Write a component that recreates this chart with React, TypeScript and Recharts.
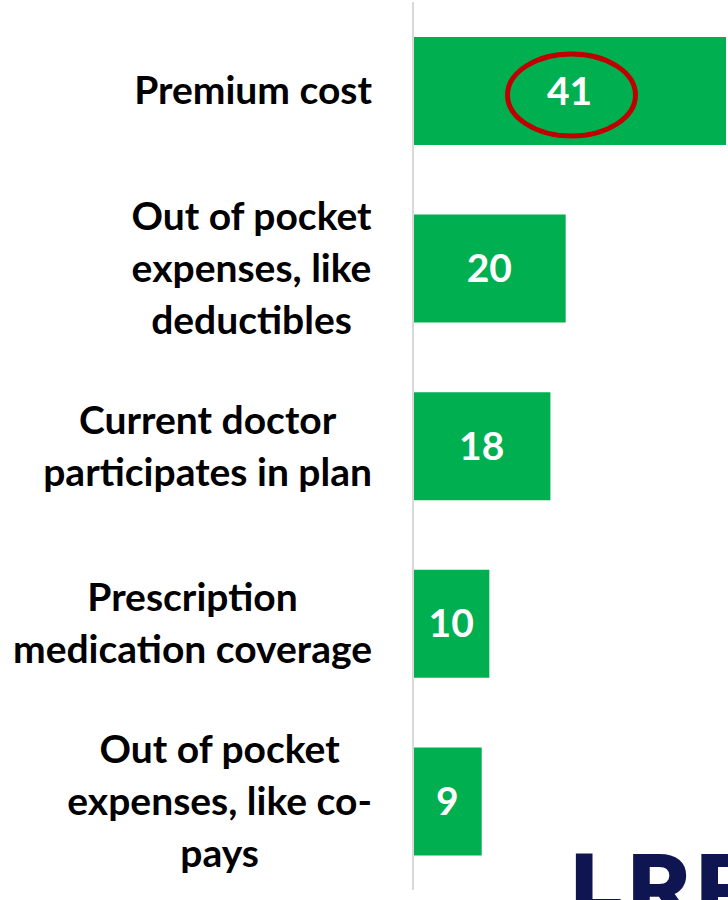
import { BarChart, Bar, XAxis, YAxis, LabelList, Cell } from "recharts"

const CATEGORIES = [
  "Premium cost",
  "Out of pocket\nexpenses, like\ndeductibles",
  "Current doctor\nparticipates in plan",
  "Prescription\nmedication coverage",
  "Out of pocket\nexpenses, like co-\npays",
]
const VALUES = [41, 20, 18, 10, 9]
const HIGHLIGHT = "Premium cost"

const data = CATEGORIES.map((c, i) => ({ category: c, value: VALUES[i] }))

const FONT = "Lato, 'Open Sans', sans-serif"
const LABEL_SIZE = 39
const LINE_H = 52

let measureCtx: CanvasRenderingContext2D | null = null
function textWidth(s: string) {
  if (!measureCtx) measureCtx = document.createElement("canvas").getContext("2d")
  if (!measureCtx) return s.length * LABEL_SIZE * 0.5
  measureCtx.font = `700 ${LABEL_SIZE}px ${FONT}`
  return measureCtx.measureText(s).width
}

// multi-line label, lines centered against each other, block right-aligned
function CategoryTick({ x, y, payload }: any) {
  const lines = String(payload.value).split("\n")
  const widest = Math.max(...lines.map(textWidth))
  const cx = x - 33 - widest / 2
  const top = y - ((lines.length - 1) * LINE_H) / 2
  return (
    <text
      textAnchor="middle"
      fontFamily={FONT}
      fontWeight={700}
      fontSize={LABEL_SIZE}
      fill="#000"
    >
      {lines.map((ln, i) => (
        <tspan key={i} x={cx} y={top + i * LINE_H} dy="0.35em">
          {ln}
        </tspan>
      ))}
    </text>
  )
}

function ValueLabel(props: any) {
  const { x, y, width, height, value, index } = props
  const cx = x + width / 2
  const cy = y + height / 2
  return (
    <g>
      <text
        x={cx}
        y={cy}
        dy="0.35em"
        textAnchor="middle"
        fontFamily={FONT}
        fontWeight={700}
        fontSize={39}
        fill="#fff"
      >
        {value}
      </text>
      {data[index]?.category === HIGHLIGHT && (
        <ellipse cx={cx + 2} cy={cy + 4} rx={64} ry={41} fill="none" stroke="#c00000" strokeWidth={5} />
      )}
    </g>
  )
}

export default function App() {
  return (
    <div style={{ position: "absolute", left: 0, top: 0, width: 728, height: 900, overflow: "hidden", background: "#fff" }}>
      <BarChart
        width={728}
        height={900}
        data={data}
        layout="vertical"
        margin={{ top: 2, right: 2, bottom: 10, left: 0 }}
        barSize={108}
      >
        <XAxis type="number" domain={[0, 41]} hide />
        <YAxis
          type="category"
          dataKey="category"
          width={413}
          axisLine={{ stroke: "#d9d9d9", strokeWidth: 2 }}
          tickLine={false}
          tick={<CategoryTick />}
          interval={0}
        />
        <Bar dataKey="value" fill="#00b050" isAnimationActive={false}>
          {data.map((d) => (
            <Cell key={d.category} fill="#00b050" />
          ))}
          <LabelList dataKey="value" content={<ValueLabel />} />
        </Bar>
      </BarChart>
      <div
        style={{
          position: "absolute",
          left: 570,
          top: 840,
          fontFamily: "Montserrat, 'Open Sans', sans-serif",
          fontWeight: 800,
          fontSize: 84,
          letterSpacing: 6,
          color: "#0f1550",
          lineHeight: 1,
        }}
      >
        LRP
      </div>
    </div>
  )
}
